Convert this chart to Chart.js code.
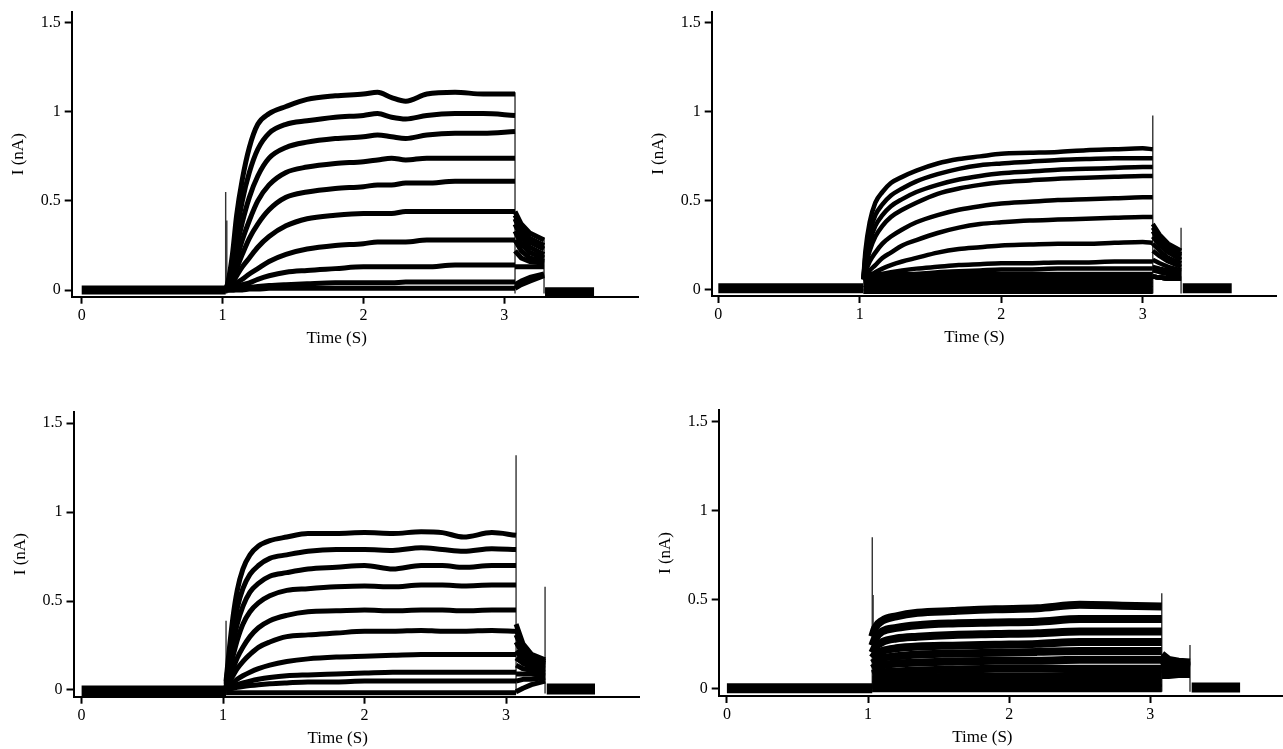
<!DOCTYPE html>
<html>
<head>
<meta charset="utf-8">
<script src="https://cdn.jsdelivr.net/npm/chart.js@4/dist/chart.umd.min.js"></script>
<style>
  html, body { margin: 0; padding: 0; background: #fff; }
  #wrap { position: relative; width: 1283px; height: 749px; overflow: hidden; }
  canvas { position: absolute; }
</style>
</head>
<body>
<div id="wrap">
  <canvas id="pA" width="641" height="370" style="left:0px;top:0px"></canvas>
  <canvas id="pB" width="642" height="370" style="left:641px;top:0px"></canvas>
  <canvas id="pC" width="641" height="374" style="left:0px;top:375px"></canvas>
  <canvas id="pD" width="642" height="374" style="left:641px;top:375px"></canvas>
</div>
<script>
// axis ticks
const xTickVals = [0, 1, 2, 3];
const yTickVals = [0, 0.5, 1, 1.5];

// ---- panel A (top left) ----
const aStepT = [1.022, 1.04, 1.07, 1.10, 1.14, 1.19, 1.25, 1.33, 1.45, 1.6, 1.8, 2.0, 2.1, 2.2, 2.3, 2.45, 2.65, 2.85, 3.076];
const aTraces = [
  [0, 0.05, 0.20, 0.42, 0.62, 0.80, 0.93, 0.99, 1.03, 1.07, 1.09, 1.10, 1.11, 1.08, 1.06, 1.10, 1.11, 1.10, 1.10],
  [0, 0.04, 0.15, 0.32, 0.50, 0.66, 0.79, 0.88, 0.93, 0.95, 0.97, 0.98, 0.99, 0.97, 0.96, 0.98, 0.99, 0.99, 0.98],
  [0, 0.03, 0.11, 0.24, 0.38, 0.52, 0.64, 0.74, 0.80, 0.83, 0.85, 0.86, 0.87, 0.86, 0.85, 0.87, 0.88, 0.88, 0.89],
  [0, 0.02, 0.08, 0.17, 0.28, 0.39, 0.50, 0.59, 0.66, 0.69, 0.71, 0.72, 0.73, 0.74, 0.73, 0.74, 0.74, 0.74, 0.74],
  [0, 0.015, 0.06, 0.12, 0.20, 0.29, 0.37, 0.45, 0.52, 0.55, 0.57, 0.58, 0.59, 0.59, 0.60, 0.60, 0.61, 0.61, 0.61],
  [0, 0.01, 0.04, 0.08, 0.13, 0.18, 0.24, 0.30, 0.36, 0.40, 0.42, 0.43, 0.43, 0.43, 0.44, 0.44, 0.44, 0.44, 0.44],
  [0, 0.005, 0.02, 0.04, 0.06, 0.09, 0.12, 0.16, 0.20, 0.23, 0.25, 0.26, 0.27, 0.27, 0.27, 0.28, 0.28, 0.28, 0.28],
  [0, 0, 0.01, 0.02, 0.03, 0.04, 0.06, 0.08, 0.10, 0.11, 0.12, 0.13, 0.13, 0.13, 0.13, 0.13, 0.14, 0.14, 0.14],
  [0, 0, 0, 0.005, 0.01, 0.015, 0.02, 0.025, 0.03, 0.035, 0.04, 0.04, 0.04, 0.04, 0.045, 0.045, 0.045, 0.045, 0.045],
  [0, 0, 0, 0, 0, 0.005, 0.005, 0.01, 0.01, 0.01, 0.01, 0.01, 0.01, 0.01, 0.01, 0.01, 0.01, 0.01, 0.01]
];
const aTailT = [3.076, 3.12, 3.18, 3.282];
const aTails = [
  [0.44, 0.37, 0.32, 0.28], [0.42, 0.35, 0.29, 0.25], [0.40, 0.32, 0.27, 0.23],
  [0.37, 0.30, 0.24, 0.20], [0.33, 0.26, 0.21, 0.18], [0.28, 0.22, 0.18, 0.16],
  [0.22, 0.18, 0.16, 0.15], [0.13, 0.13, 0.13, 0.13], [0.03, 0.05, 0.07, 0.09],
  [0.01, 0.03, 0.05, 0.08]
];
const aPreT = [0, 1.022], aPreV = [0, 0];
const aPostT = [3.289, 3.637], aPostV = [-0.01, -0.01];
const aSpikeT = [1.022, 1.03, 3.076, 3.282];
const aSpikeTop = [0.55, 0.39, 1.11, 0.29];

// ---- panel B (top right) ----
const bStepT = [1.025, 1.04, 1.07, 1.11, 1.16, 1.22, 1.3, 1.4, 1.55, 1.7, 1.85, 2.0, 2.2, 2.4, 2.6, 2.8, 3.0, 3.071];
const bTraces = [
  [0.06, 0.22, 0.38, 0.49, 0.55, 0.60, 0.635, 0.67, 0.71, 0.735, 0.75, 0.765, 0.77, 0.775, 0.785, 0.79, 0.795, 0.79],
  [0.06, 0.19, 0.32, 0.42, 0.48, 0.53, 0.57, 0.61, 0.65, 0.68, 0.70, 0.71, 0.72, 0.73, 0.735, 0.74, 0.74, 0.74],
  [0.06, 0.16, 0.27, 0.36, 0.42, 0.47, 0.51, 0.55, 0.59, 0.62, 0.64, 0.655, 0.665, 0.675, 0.68, 0.685, 0.69, 0.69],
  [0.06, 0.13, 0.22, 0.30, 0.36, 0.41, 0.45, 0.49, 0.54, 0.57, 0.59, 0.605, 0.615, 0.625, 0.63, 0.635, 0.64, 0.64],
  [0.06, 0.10, 0.16, 0.21, 0.26, 0.30, 0.34, 0.38, 0.42, 0.45, 0.47, 0.485, 0.495, 0.505, 0.51, 0.515, 0.52, 0.52],
  [0.06, 0.08, 0.11, 0.14, 0.18, 0.21, 0.25, 0.28, 0.32, 0.35, 0.37, 0.38, 0.39, 0.395, 0.40, 0.405, 0.41, 0.41],
  [0.06, 0.07, 0.08, 0.10, 0.12, 0.14, 0.16, 0.18, 0.21, 0.23, 0.24, 0.25, 0.255, 0.26, 0.26, 0.265, 0.27, 0.265],
  [0.06, 0.065, 0.07, 0.08, 0.09, 0.10, 0.11, 0.12, 0.13, 0.14, 0.145, 0.15, 0.15, 0.155, 0.155, 0.16, 0.16, 0.16],
  [0.06, 0.06, 0.065, 0.07, 0.075, 0.08, 0.085, 0.09, 0.10, 0.105, 0.11, 0.115, 0.115, 0.12, 0.12, 0.12, 0.12, 0.12]
];
const bTailT = [3.071, 3.12, 3.18, 3.271];
const bTails = [
  [0.37, 0.31, 0.26, 0.22], [0.35, 0.29, 0.24, 0.20], [0.33, 0.27, 0.22, 0.19],
  [0.30, 0.25, 0.21, 0.17], [0.26, 0.22, 0.18, 0.15], [0.22, 0.19, 0.16, 0.13],
  [0.17, 0.15, 0.13, 0.11], [0.13, 0.12, 0.11, 0.10], [0.11, 0.10, 0.09, 0.09]
];
// dense band of small traces near zero
const bBandT = [1.025, 3.071];
const bBand = [[0.09, 0.09], [0.07, 0.07], [0.05, 0.05], [0.03, 0.03], [0.01, 0.01], [-0.01, -0.01]];
const bBandTail = [0.075, 0.07, 0.065, 0.065];
const bPreT = [0, 1.025], bPreV = [0.01, 0.01];
const bPostT = [3.283, 3.629], bPostV = [0.01, 0.01];
const bSpikeT = [3.071, 3.271];
const bSpikeTop = [0.98, 0.35];

// ---- panel C (bottom left) ----
const cStepT = [1.021, 1.04, 1.07, 1.10, 1.14, 1.19, 1.25, 1.33, 1.45, 1.6, 1.8, 2.0, 2.2, 2.4, 2.55, 2.7, 2.9, 3.071];
const cTraces = [
  [0.05, 0.20, 0.41, 0.56, 0.68, 0.76, 0.81, 0.84, 0.86, 0.88, 0.88, 0.885, 0.88, 0.89, 0.885, 0.86, 0.885, 0.87],
  [0.04, 0.16, 0.33, 0.46, 0.57, 0.65, 0.70, 0.74, 0.76, 0.78, 0.79, 0.79, 0.785, 0.80, 0.79, 0.78, 0.795, 0.79],
  [0.03, 0.12, 0.26, 0.37, 0.47, 0.55, 0.60, 0.64, 0.66, 0.68, 0.69, 0.70, 0.68, 0.70, 0.70, 0.69, 0.70, 0.70],
  [0.02, 0.09, 0.19, 0.28, 0.37, 0.44, 0.49, 0.53, 0.56, 0.57, 0.58, 0.585, 0.58, 0.59, 0.59, 0.585, 0.59, 0.59],
  [0.02, 0.06, 0.12, 0.18, 0.24, 0.30, 0.35, 0.39, 0.42, 0.44, 0.445, 0.45, 0.445, 0.45, 0.45, 0.445, 0.45, 0.45],
  [0.01, 0.04, 0.08, 0.12, 0.16, 0.20, 0.24, 0.27, 0.30, 0.31, 0.32, 0.33, 0.33, 0.335, 0.33, 0.33, 0.335, 0.33],
  [0.01, 0.02, 0.04, 0.06, 0.08, 0.10, 0.12, 0.14, 0.16, 0.175, 0.185, 0.19, 0.195, 0.20, 0.20, 0.20, 0.20, 0.20],
  [0, 0.01, 0.02, 0.03, 0.04, 0.05, 0.06, 0.07, 0.08, 0.085, 0.09, 0.095, 0.10, 0.10, 0.10, 0.10, 0.10, 0.10],
  [0, 0.005, 0.01, 0.015, 0.02, 0.025, 0.03, 0.035, 0.04, 0.045, 0.045, 0.05, 0.05, 0.05, 0.05, 0.05, 0.05, 0.05],
  [-0.015, -0.015, -0.015, -0.015, -0.015, -0.015, -0.015, -0.015, -0.015, -0.015, -0.015, -0.015, -0.015, -0.015, -0.015, -0.015, -0.015, -0.015]
];
const cTailT = [3.071, 3.12, 3.18, 3.276];
const cTails = [
  [0.37, 0.26, 0.20, 0.17], [0.34, 0.24, 0.19, 0.16], [0.31, 0.22, 0.18, 0.15],
  [0.27, 0.20, 0.16, 0.14], [0.22, 0.17, 0.14, 0.13], [0.18, 0.15, 0.13, 0.12],
  [0.14, 0.12, 0.11, 0.10], [0.09, 0.09, 0.09, 0.08], [0.05, 0.06, 0.06, 0.07],
  [-0.01, 0.01, 0.03, 0.05]
];
const cPreT = [0, 1.021], cPreV = [-0.005, -0.005];
const cPostT = [3.288, 3.629], cPostV = [0.005, 0.005];
const cSpikeT = [1.021, 3.071, 3.276];
const cSpikeTop = [0.39, 1.32, 0.58];

// ---- panel D (bottom right) ----
const dStepT = [1.03, 1.05, 1.1, 1.2, 1.35, 1.6, 1.9, 2.2, 2.5, 2.8, 3.081];
const dTraces = [
  [0.29, 0.34, 0.38, 0.405, 0.425, 0.435, 0.445, 0.45, 0.47, 0.465, 0.46],
  [0.24, 0.28, 0.32, 0.34, 0.355, 0.365, 0.37, 0.375, 0.39, 0.39, 0.39],
  [0.20, 0.23, 0.26, 0.28, 0.29, 0.30, 0.305, 0.31, 0.32, 0.32, 0.32],
  [0.17, 0.19, 0.21, 0.225, 0.235, 0.24, 0.245, 0.25, 0.26, 0.26, 0.26],
  [0.14, 0.15, 0.17, 0.18, 0.19, 0.195, 0.20, 0.205, 0.21, 0.21, 0.21],
  [0.11, 0.12, 0.13, 0.14, 0.145, 0.15, 0.155, 0.155, 0.16, 0.16, 0.16],
  [0.08, 0.085, 0.09, 0.095, 0.10, 0.105, 0.11, 0.11, 0.11, 0.11, 0.11],
  [0.05, 0.05, 0.055, 0.06, 0.06, 0.065, 0.065, 0.065, 0.07, 0.07, 0.07],
  [0.02, 0.02, 0.025, 0.025, 0.03, 0.03, 0.03, 0.03, 0.03, 0.03, 0.03],
  [0, 0, 0, 0, 0, 0, 0, 0, 0, 0, 0]
];
const dTailT = [3.081, 3.13, 3.2, 3.281];
const dTails = [
  [0.19, 0.16, 0.15, 0.145], [0.17, 0.15, 0.14, 0.14], [0.16, 0.14, 0.135, 0.13],
  [0.15, 0.135, 0.13, 0.125], [0.14, 0.13, 0.125, 0.12], [0.13, 0.12, 0.12, 0.115],
  [0.115, 0.11, 0.11, 0.11], [0.10, 0.10, 0.10, 0.10], [0.09, 0.09, 0.09, 0.09],
  [0.075, 0.075, 0.08, 0.08]
];
const dPreT = [0, 1.03], dPreV = [0, 0];
const dPostT = [3.293, 3.636], dPostV = [0.005, 0.005];
const dSpikeT = [1.03, 1.036, 3.081, 3.281];
const dSpikeTop = [0.85, 0.525, 0.535, 0.244];

const spikeFloor = -0.02;

function lineSet(xs, ys, width, smooth, color) {
  return {
    data: xs.map((x, i) => ({ x: x, y: ys[i] })),
    borderColor: color || '#000',
    borderWidth: width,
    pointRadius: 0,
    fill: false,
    tension: 0,
    cubicInterpolationMode: smooth ? 'monotone' : 'default',
    borderJoinStyle: 'round'
  };
}

function buildSets(d) {
  const sets = [];
  sets.push(lineSet(d.preT, d.preV, d.baseW));
  sets.push(lineSet(d.postT, d.postV, d.baseW));
  d.traces.forEach((vals, i) => {
    sets.push(lineSet(d.stepT, vals, d.w, true));
    sets.push(lineSet(d.tailT, d.tails[i], d.w, false));
  });
  (d.band || []).forEach(vals => {
    sets.push(lineSet(d.bandT, vals, d.w, false));
    sets.push(lineSet(d.tailT, d.bandTail, d.w, false));
  });
  d.spikeT.forEach((t, i) => {
    sets.push(lineSet([t, t], [spikeFloor, d.spikeTop[i]], 1.4, false, '#333'));
  });
  return sets;
}

const serif = 'Liberation Serif, Times New Roman, serif';

const xTitle = {
  id: 'xTitle',
  afterDraw(chart, args, opts) {
    const ctx = chart.ctx, x = chart.scales.x;
    ctx.save();
    ctx.font = '17px ' + serif;
    ctx.fillStyle = '#000';
    ctx.textAlign = 'center';
    ctx.textBaseline = 'middle';
    ctx.fillText(opts.text, x.getPixelForValue(opts.at), x.top + 42);
    ctx.restore();
  }
};

function axisBase() {
  return {
    type: 'linear',
    border: { display: true, color: '#000', width: 2 },
    grid: { display: true, drawOnChartArea: false, drawTicks: true, tickLength: 7, tickWidth: 2, tickColor: '#000', color: '#000' },
    ticks: { color: '#000', font: { family: serif, size: 16 }, callback: v => String(v) }
  };
}

function makePanel(id, box, d) {
  const xAxis = Object.assign(axisBase(), {
    min: box.xMin, max: box.xMax,
    afterBuildTicks: s => { s.ticks = xTickVals.map(v => ({ value: v })); },
    afterFit: s => { s.height = 52; s.paddingLeft = 0; s.paddingRight = 0; }
  });
  xAxis.ticks.padding = 2;
  const yAxis = Object.assign(axisBase(), {
    min: box.yMin, max: box.yMax,
    title: { display: true, text: 'I (nA)', color: '#000', font: { family: serif, size: 17 }, padding: { top: 2, bottom: 0 } },
    afterBuildTicks: s => { s.ticks = yTickVals.map(v => ({ value: v })); },
    afterFit: s => { s.width = 65; s.paddingTop = 0; s.paddingBottom = 0; }
  });
  yAxis.ticks.padding = 4;

  new Chart(document.getElementById(id), {
    type: 'line',
    data: { datasets: buildSets(d) },
    options: {
      responsive: false,
      animation: false,
      devicePixelRatio: 1,
      layout: { padding: box.pad },
      plugins: { legend: { display: false }, tooltip: { enabled: false }, xTitle: { text: 'Time (S)', at: 1.81 } },
      scales: { x: xAxis, y: yAxis }
    },
    plugins: [xTitle]
  });
}

makePanel('pA',
  { xMin: -0.071, xMax: 3.949, yMin: -0.0376, yMax: 1.562, pad: { left: 6.7, top: 11.7, right: 3, bottom: 21.3 } },
  { stepT: aStepT, traces: aTraces, tailT: aTailT, tails: aTails, preT: aPreT, preV: aPreV, postT: aPostT, postV: aPostV,
    spikeT: aSpikeT, spikeTop: aSpikeTop, w: 5, baseW: 9 });

makePanel('pB',
  { xMin: -0.0467, xMax: 3.947, yMin: -0.0337, yMax: 1.562, pad: { left: 5.7, top: 11.7, right: 6.3, bottom: 22 } },
  { stepT: bStepT, traces: bTraces, tailT: bTailT, tails: bTails, preT: bPreT, preV: bPreV, postT: bPostT, postV: bPostV,
    band: bBand, bandT: bBandT, bandTail: bBandTail, spikeT: bSpikeT, spikeTop: bSpikeTop, w: 4.5, baseW: 10 });

makePanel('pC',
  { xMin: -0.0573, xMax: 3.940, yMin: -0.0377, yMax: 1.565, pad: { left: 8.5, top: 36.7, right: 2, bottom: 0.3 } },
  { stepT: cStepT, traces: cTraces, tailT: cTailT, tails: cTails, preT: cPreT, preV: cPreV, postT: cPostT, postV: cPostV,
    spikeT: cSpikeT, spikeTop: cSpikeTop, w: 5, baseW: 11 });

makePanel('pD',
  { xMin: -0.0581, xMax: 3.940, yMin: -0.0433, yMax: 1.566, pad: { left: 12.7, top: 35, right: 0, bottom: 1 } },
  { stepT: dStepT, traces: dTraces, tailT: dTailT, tails: dTails, preT: dPreT, preV: dPreV, postT: dPostT, postV: dPostV,
    spikeT: dSpikeT, spikeTop: dSpikeTop, w: 8, baseW: 10 });
</script>
</body>
</html>
